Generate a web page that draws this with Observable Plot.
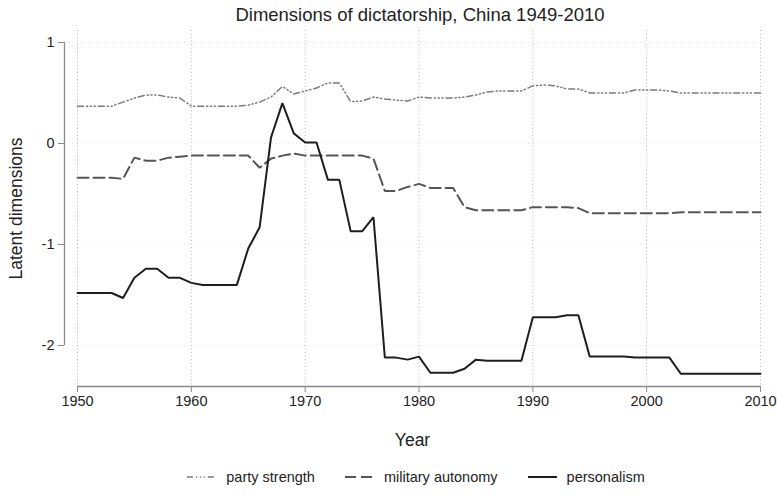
<!DOCTYPE html>
<html>
<head>
<meta charset="utf-8">
<script src="https://cdn.jsdelivr.net/npm/d3@7"></script>
<script src="https://cdn.jsdelivr.net/npm/@observablehq/plot@0.6"></script>
<style>
  body { margin: 0; background: #fff; font-family: "Liberation Sans", Arial, sans-serif; color: #222; }
  #wrap { width: 777px; }
  #title { height: 30px; line-height: 30px; font-size: 18.5px; text-align: center; padding-left: 63px; box-sizing: border-box; }
  #legend { height: 34px; display: flex; justify-content: center; align-items: center; padding-left: 55px; box-sizing: border-box; font-size: 14.5px; }
  #legend .item { display: flex; align-items: center; margin: 0 15px; }
  #legend svg { margin-right: 10px; }
  g[aria-label="x-axis label"], g[aria-label="y-axis label"] { font-size: 17.5px; }
</style>
</head>
<body>
<div id="wrap">
  <div id="title">Dimensions of dictatorship, China 1949-2010</div>
  <div id="chart"></div>
  <div id="legend"></div>
</div>
<script>
const years = [1950,1951,1952,1953,1954,1955,1956,1957,1958,1959,
  1960,1961,1962,1963,1964,1965,1966,1967,1968,1969,
  1970,1971,1972,1973,1974,1975,1976,1977,1978,1979,
  1980,1981,1982,1983,1984,1985,1986,1987,1988,1989,
  1990,1991,1992,1993,1994,1995,1996,1997,1998,1999,
  2000,2001,2002,2003,2004,2005,2006,2007,2008,2009,2010];

const partyStrength = [0.37,0.37,0.37,0.37,0.41,0.45,0.48,0.48,0.46,0.45,
  0.37,0.37,0.37,0.37,0.37,0.38,0.41,0.46,0.565,0.49,
  0.52,0.55,0.60,0.60,0.415,0.42,0.46,0.44,0.43,0.42,
  0.46,0.45,0.45,0.45,0.46,0.48,0.51,0.52,0.52,0.52,
  0.57,0.58,0.57,0.54,0.54,0.50,0.50,0.50,0.50,0.53,
  0.53,0.53,0.52,0.50,0.50,0.50,0.50,0.50,0.50,0.50,0.50];

const militaryAutonomy = [-0.34,-0.34,-0.34,-0.34,-0.35,-0.14,-0.17,-0.17,-0.14,-0.13,
  -0.12,-0.12,-0.12,-0.12,-0.12,-0.12,-0.24,-0.15,-0.12,-0.10,
  -0.12,-0.12,-0.12,-0.12,-0.12,-0.12,-0.15,-0.47,-0.47,-0.43,
  -0.40,-0.44,-0.44,-0.44,-0.63,-0.66,-0.66,-0.66,-0.66,-0.66,
  -0.63,-0.63,-0.63,-0.63,-0.64,-0.69,-0.69,-0.69,-0.69,-0.69,
  -0.69,-0.69,-0.69,-0.68,-0.68,-0.68,-0.68,-0.68,-0.68,-0.68,-0.68];

const personalism = [-1.48,-1.48,-1.48,-1.48,-1.53,-1.33,-1.24,-1.24,-1.33,-1.33,
  -1.38,-1.40,-1.40,-1.40,-1.40,-1.04,-0.83,0.06,0.40,0.10,
  0.01,0.01,-0.36,-0.36,-0.87,-0.87,-0.73,-2.12,-2.12,-2.14,
  -2.11,-2.27,-2.27,-2.27,-2.23,-2.14,-2.15,-2.15,-2.15,-2.15,
  -1.72,-1.72,-1.72,-1.70,-1.70,-2.11,-2.11,-2.11,-2.11,-2.12,
  -2.12,-2.12,-2.12,-2.28,-2.28,-2.28,-2.28,-2.28,-2.28,-2.28,-2.28];

const xTicks = [1950,1960,1970,1980,1990,2000,2010];
const yTicks = [1,0,-1,-2];
const seriesNames = ["party strength","military autonomy","personalism"];
const seriesValues = [partyStrength, militaryAutonomy, personalism];
const seriesStyle = [
  {stroke: "#7a7a7a", strokeWidth: 1.5, strokeDasharray: "6,3,1.2,2.6,1.2,2.6,1.2,3"},
  {stroke: "#555", strokeWidth: 2, strokeDasharray: "11,5"},
  {stroke: "#1e1e1e", strokeWidth: 2, strokeDasharray: null}
];

const tables = seriesValues.map(vals => years.map((y, i) => ({year: y, value: vals[i]})));

const chart = Plot.plot({
  width: 777,
  height: 430,
  marginTop: 0,
  marginLeft: 64,
  marginRight: 17,
  marginBottom: 74,
  style: {fontFamily: "Liberation Sans, Arial, sans-serif", fontSize: "14.5px", color: "#222", background: "#fff"},
  x: {domain: [1950, 2010], insetLeft: 13},
  y: {domain: [-2, 1], insetTop: 12, insetBottom: 41},
  marks: [
    Plot.gridY(yTicks, {stroke: "#e6e6e6", strokeOpacity: 1, strokeDasharray: "1,3"}),
    Plot.gridX(xTicks, {stroke: "#b8b8b8", strokeOpacity: 1, strokeDasharray: "1,2.5"}),
    ...tables.map((t, i) => Plot.line(t, {
      x: "year", y: "value",
      stroke: seriesStyle[i].stroke,
      strokeWidth: seriesStyle[i].strokeWidth,
      strokeDasharray: seriesStyle[i].strokeDasharray,
      strokeLinejoin: "miter"
    })),
    Plot.ruleX([1950], {y1: -2, y2: 1, dx: -13, stroke: "#8a8a8a", strokeWidth: 1.3}),
    Plot.ruleY([-2], {x1: 1950, x2: 2010, dy: 41, stroke: "#8a8a8a", strokeWidth: 1.3}),
    Plot.axisX(xTicks, {tickSize: 6, tickPadding: 3, stroke: "#8a8a8a", tickFormat: d => String(d),
      label: "Year", labelAnchor: "center", labelOffset: 59, labelArrow: false}),
    Plot.axisY(yTicks, {tickSize: 6, tickPadding: 4, stroke: "#8a8a8a", tickFormat: d => String(d),
      label: "Latent dimensions", labelAnchor: "center", labelOffset: 55, labelArrow: false})
  ]
});
document.getElementById("chart").appendChild(chart);

const legend = document.getElementById("legend");
seriesNames.forEach((name, i) => {
  const item = document.createElement("span");
  item.className = "item";
  const s = seriesStyle[i];
  item.innerHTML = `<svg width="29" height="10"><line x1="0" y1="5" x2="29" y2="5" stroke="${s.stroke}" stroke-width="${s.strokeWidth}" ${s.strokeDasharray ? `stroke-dasharray="${s.strokeDasharray}"` : ""}/></svg><span>${name}</span>`;
  legend.appendChild(item);
});
</script>
</body>
</html>
